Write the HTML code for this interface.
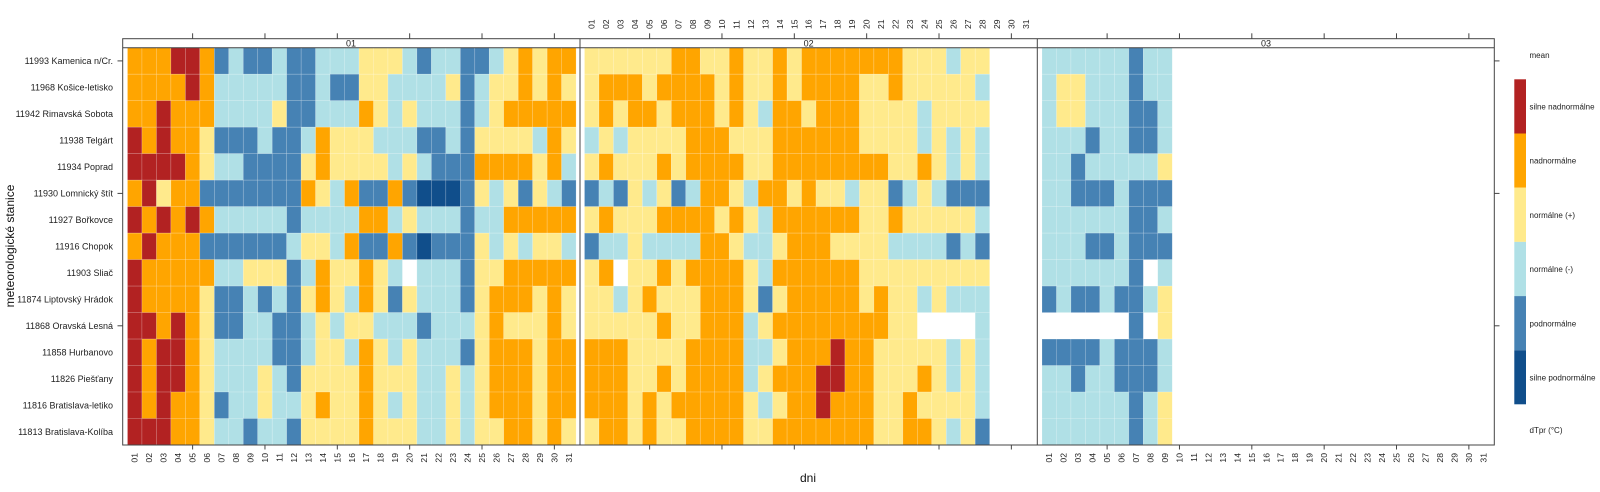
<!DOCTYPE html>
<html><head><meta charset="utf-8">
<style>
html,body{margin:0;padding:0;background:#fff;}
svg{display:block;font-family:"Liberation Sans",Arial,sans-serif;}
</style></head>
<body>
<svg id="s" width="1600" height="492" viewBox="0 0 1600 492" xmlns="http://www.w3.org/2000/svg">
<g id="cells"></g>
<g fill="none" stroke="#444" stroke-width="1">
<rect x="122.7" y="38.7" width="1371.6" height="406.3"/>
<line x1="580" y1="38.7" x2="580" y2="445"/>
<line x1="1037.3" y1="38.7" x2="1037.3" y2="445"/>
<line x1="122.7" y1="47.7" x2="1494.3" y2="47.7"/>
</g>
<g id="ticks" stroke="#444" stroke-width="1"></g>
<g font-size="9" fill="#222" text-anchor="middle">
<text x="351" y="46.5">01</text><text x="808.6" y="46.5">02</text><text x="1266" y="46.5">03</text>
</g>
<g font-size="9" fill="#222" text-anchor="end">
<text x="113" y="64">11993 Kamenica n/Cr.</text>
<text x="113" y="90.5">11968 Košice-letisko</text>
<text x="113" y="117">11942 Rimavská Sobota</text>
<text x="113" y="143.5">11938 Telgárt</text>
<text x="113" y="170">11934 Poprad</text>
<text x="113" y="196.5">11930 Lomnický štít</text>
<text x="113" y="223">11927 Bořkovce</text>
<text x="113" y="249.5">11916 Chopok</text>
<text x="113" y="276">11903 Sliač</text>
<text x="113" y="302.5">11874 Liptovský Hrádok</text>
<text x="113" y="329">11868 Oravská Lesná</text>
<text x="113" y="355.5">11858 Hurbanovo</text>
<text x="113" y="382">11826 Piešťany</text>
<text x="113" y="408.5">11816 Bratislava-letiko</text>
<text x="113" y="435">11813 Bratislava-Kolíba</text>
</g>
<text transform="translate(14,246) rotate(-90)" font-size="12" fill="#111" text-anchor="middle">meteorologické stanice</text>
<text x="808" y="482" font-size="12" fill="#111" text-anchor="middle">dni</text>
<g font-size="8" fill="#222">
<text x="1529.5" y="58">mean</text>
<text x="1529.5" y="109.5" textLength="65" lengthAdjust="spacingAndGlyphs">silne nadnormálne</text>
<text x="1529.5" y="163.5">nadnormálne</text>
<text x="1529.5" y="218">normálne (+)</text>
<text x="1529.5" y="272">normálne (-)</text>
<text x="1529.5" y="326.5">podnormálne</text>
<text x="1529.5" y="380.5" textLength="66" lengthAdjust="spacingAndGlyphs">silne podnormálne</text>
<text x="1529.5" y="433">dTpr (°C)</text>
</g>
<g>
<rect x="1514.3" y="79.3" width="11.7" height="54.2" fill="#B22222"/>
<rect x="1514.3" y="133.5" width="11.7" height="54.2" fill="#FFA500"/>
<rect x="1514.3" y="187.7" width="11.7" height="54.2" fill="#FFEA8C"/>
<rect x="1514.3" y="241.9" width="11.7" height="54.2" fill="#B0E0E6"/>
<rect x="1514.3" y="296.1" width="11.7" height="54.2" fill="#4682B4"/>
<rect x="1514.3" y="350.3" width="11.7" height="54" fill="#104E8B"/>
</g>
<g font-size="8.6" fill="#222" id="toplab">
<text transform="translate(591.7,29) rotate(-90)" dy="0.35em">01</text>
<text transform="translate(606.2,29) rotate(-90)" dy="0.35em">02</text>
<text transform="translate(620.6,29) rotate(-90)" dy="0.35em">03</text>
<text transform="translate(635.1,29) rotate(-90)" dy="0.35em">04</text>
<text transform="translate(649.6,29) rotate(-90)" dy="0.35em">05</text>
<text transform="translate(664.0,29) rotate(-90)" dy="0.35em">06</text>
<text transform="translate(678.5,29) rotate(-90)" dy="0.35em">07</text>
<text transform="translate(693.0,29) rotate(-90)" dy="0.35em">08</text>
<text transform="translate(707.5,29) rotate(-90)" dy="0.35em">09</text>
<text transform="translate(721.9,29) rotate(-90)" dy="0.35em">10</text>
<text transform="translate(736.4,29) rotate(-90)" dy="0.35em">11</text>
<text transform="translate(750.9,29) rotate(-90)" dy="0.35em">12</text>
<text transform="translate(765.3,29) rotate(-90)" dy="0.35em">13</text>
<text transform="translate(779.8,29) rotate(-90)" dy="0.35em">14</text>
<text transform="translate(794.3,29) rotate(-90)" dy="0.35em">15</text>
<text transform="translate(808.7,29) rotate(-90)" dy="0.35em">16</text>
<text transform="translate(823.2,29) rotate(-90)" dy="0.35em">17</text>
<text transform="translate(837.7,29) rotate(-90)" dy="0.35em">18</text>
<text transform="translate(852.2,29) rotate(-90)" dy="0.35em">19</text>
<text transform="translate(866.6,29) rotate(-90)" dy="0.35em">20</text>
<text transform="translate(881.1,29) rotate(-90)" dy="0.35em">21</text>
<text transform="translate(895.6,29) rotate(-90)" dy="0.35em">22</text>
<text transform="translate(910.0,29) rotate(-90)" dy="0.35em">23</text>
<text transform="translate(924.5,29) rotate(-90)" dy="0.35em">24</text>
<text transform="translate(939.0,29) rotate(-90)" dy="0.35em">25</text>
<text transform="translate(953.4,29) rotate(-90)" dy="0.35em">26</text>
<text transform="translate(967.9,29) rotate(-90)" dy="0.35em">27</text>
<text transform="translate(982.4,29) rotate(-90)" dy="0.35em">28</text>
<text transform="translate(996.9,29) rotate(-90)" dy="0.35em">29</text>
<text transform="translate(1011.3,29) rotate(-90)" dy="0.35em">30</text>
<text transform="translate(1025.8,29) rotate(-90)" dy="0.35em">31</text>
</g>
<g font-size="8.6" fill="#222" text-anchor="end">
<text transform="translate(134.7,453) rotate(-90)" dy="0.35em">01</text>
<text transform="translate(149.2,453) rotate(-90)" dy="0.35em">02</text>
<text transform="translate(163.7,453) rotate(-90)" dy="0.35em">03</text>
<text transform="translate(178.1,453) rotate(-90)" dy="0.35em">04</text>
<text transform="translate(192.6,453) rotate(-90)" dy="0.35em">05</text>
<text transform="translate(207.1,453) rotate(-90)" dy="0.35em">06</text>
<text transform="translate(221.5,453) rotate(-90)" dy="0.35em">07</text>
<text transform="translate(236.0,453) rotate(-90)" dy="0.35em">08</text>
<text transform="translate(250.5,453) rotate(-90)" dy="0.35em">09</text>
<text transform="translate(264.9,453) rotate(-90)" dy="0.35em">10</text>
<text transform="translate(279.4,453) rotate(-90)" dy="0.35em">11</text>
<text transform="translate(293.9,453) rotate(-90)" dy="0.35em">12</text>
<text transform="translate(308.4,453) rotate(-90)" dy="0.35em">13</text>
<text transform="translate(322.8,453) rotate(-90)" dy="0.35em">14</text>
<text transform="translate(337.3,453) rotate(-90)" dy="0.35em">15</text>
<text transform="translate(351.8,453) rotate(-90)" dy="0.35em">16</text>
<text transform="translate(366.2,453) rotate(-90)" dy="0.35em">17</text>
<text transform="translate(380.7,453) rotate(-90)" dy="0.35em">18</text>
<text transform="translate(395.2,453) rotate(-90)" dy="0.35em">19</text>
<text transform="translate(409.6,453) rotate(-90)" dy="0.35em">20</text>
<text transform="translate(424.1,453) rotate(-90)" dy="0.35em">21</text>
<text transform="translate(438.6,453) rotate(-90)" dy="0.35em">22</text>
<text transform="translate(453.1,453) rotate(-90)" dy="0.35em">23</text>
<text transform="translate(467.5,453) rotate(-90)" dy="0.35em">24</text>
<text transform="translate(482.0,453) rotate(-90)" dy="0.35em">25</text>
<text transform="translate(496.5,453) rotate(-90)" dy="0.35em">26</text>
<text transform="translate(510.9,453) rotate(-90)" dy="0.35em">27</text>
<text transform="translate(525.4,453) rotate(-90)" dy="0.35em">28</text>
<text transform="translate(539.9,453) rotate(-90)" dy="0.35em">29</text>
<text transform="translate(554.3,453) rotate(-90)" dy="0.35em">30</text>
<text transform="translate(568.8,453) rotate(-90)" dy="0.35em">31</text>
<text transform="translate(1049.2,453) rotate(-90)" dy="0.35em">01</text>
<text transform="translate(1063.7,453) rotate(-90)" dy="0.35em">02</text>
<text transform="translate(1078.2,453) rotate(-90)" dy="0.35em">03</text>
<text transform="translate(1092.6,453) rotate(-90)" dy="0.35em">04</text>
<text transform="translate(1107.1,453) rotate(-90)" dy="0.35em">05</text>
<text transform="translate(1121.6,453) rotate(-90)" dy="0.35em">06</text>
<text transform="translate(1136.0,453) rotate(-90)" dy="0.35em">07</text>
<text transform="translate(1150.5,453) rotate(-90)" dy="0.35em">08</text>
<text transform="translate(1165.0,453) rotate(-90)" dy="0.35em">09</text>
<text transform="translate(1179.4,453) rotate(-90)" dy="0.35em">10</text>
<text transform="translate(1193.9,453) rotate(-90)" dy="0.35em">11</text>
<text transform="translate(1208.4,453) rotate(-90)" dy="0.35em">12</text>
<text transform="translate(1222.9,453) rotate(-90)" dy="0.35em">13</text>
<text transform="translate(1237.3,453) rotate(-90)" dy="0.35em">14</text>
<text transform="translate(1251.8,453) rotate(-90)" dy="0.35em">15</text>
<text transform="translate(1266.3,453) rotate(-90)" dy="0.35em">16</text>
<text transform="translate(1280.7,453) rotate(-90)" dy="0.35em">17</text>
<text transform="translate(1295.2,453) rotate(-90)" dy="0.35em">18</text>
<text transform="translate(1309.7,453) rotate(-90)" dy="0.35em">19</text>
<text transform="translate(1324.1,453) rotate(-90)" dy="0.35em">20</text>
<text transform="translate(1338.6,453) rotate(-90)" dy="0.35em">21</text>
<text transform="translate(1353.1,453) rotate(-90)" dy="0.35em">22</text>
<text transform="translate(1367.6,453) rotate(-90)" dy="0.35em">23</text>
<text transform="translate(1382.0,453) rotate(-90)" dy="0.35em">24</text>
<text transform="translate(1396.5,453) rotate(-90)" dy="0.35em">25</text>
<text transform="translate(1411.0,453) rotate(-90)" dy="0.35em">26</text>
<text transform="translate(1425.4,453) rotate(-90)" dy="0.35em">27</text>
<text transform="translate(1439.9,453) rotate(-90)" dy="0.35em">28</text>
<text transform="translate(1454.4,453) rotate(-90)" dy="0.35em">29</text>
<text transform="translate(1468.8,453) rotate(-90)" dy="0.35em">30</text>
<text transform="translate(1483.3,453) rotate(-90)" dy="0.35em">31</text>
</g>
</svg>
<script>
(function(){
var C={R:"#B22222",O:"#FFA500",Y:"#FFEA8C",L:"#B0E0E6",B:"#4682B4",D:"#104E8B"};
var P1=["OOORROBLBBLBBLLLYYYLBLLBBLYOYOO",
"OOOOROLLLLLBBLBBYYLLLLYBLYYOYOY",
"OOROOOLLLLYBBLLLOYLYLLLBLYOOOOO",
"ROROOYBBBLBBLOYYYLLLBBLBYYYYLOY",
"RRRROYLLBBBBYOYYYYLYLBBBOOOOYOL",
"ORYOOBBBBBBBOYLOBBOBDDDBYLYBYLB",
"ROROROLLLLLBLLLLOOLYLLLBLLOOOOO",
"OROOOBBBBBBLYYLOBBOBDBBBYLYLYYL",
"ROOOOOLLYYYBLOYYOYLWLLLBYYOOOOO",
"ROOOOYBBLBLBYOYLOYBYLLLBYOOOYOY",
"RRORO YBBLLBBLYLYYLLLBLLLYOYYYOY".replace(" ",""),
"RORROYLLLLBBLYYLOYLYLLLBYOOOYOO",
"RORROYLLLYLBYYYYOYYYLLYLYOOOYOO",
"ROROOYBLLYLLYOYYOYLYLLYLYOOOYOO",
"RRROOYLLBLLBYYYYOYYYLLYLYYOOYOY"];
var P2=["YYYYYYOOYYOYYOYOOOOOOOYYYLYY",
"YOOOYOOOOYOYYOYOOOOYYOYYYYYL",
"YOYOOYOOOYOYLOOYOOOYYYYLYYYY",
"LYLYYYYOOOYYYOOOOOOYYYYLYLYL",
"YOYYYOYOOOOYYOOOOOOOOYYOYLYL",
"BLBYLYBLOOYLOOYOYYLYYBLYLBBB",
"YOYYYOOOOYOYLOOOOOOYYOYYYYYL",
"BLLYLLLLOOYLLYOOOYYYYLLLLBLB",
"YOWYYOYOOOOYLOOOOOOYYYYYYYYY",
"YYLYOYYYOOOYBYOOOOOYOYYLYLLL",
"YYYYYOYYOOOLYOOOOOOOOYYWWWWL",
"OOOYYYYOOOOLLYOOOROOYYYYYLYL",
"OOOYYOYOOOOLYOOORROOYYYOYLYL",
"OOOYOYOOOOOYLYOOROOOYYOYYYYL",
"YOOYOYYOOOOYYOOOOOOOYYOOYLYB"];
var P3=["LLLLLLBLL","LYYLLLBLL","LYYLLLBBL","LLLBLLBBL","LLBLLLLLY","LLBBBLBBB","LLLLLLBBL","LLLBBLBBB","LLLLLLBWL","BLBBLBBLY","WWWWWWBWY","BBBBLBBBL","LLBLLBBBL","LLLLLLBLY","LLLLLLBLY"];
var g=document.getElementById("cells"),ns="http://www.w3.org/2000/svg";
var w=14.47,h=26.487,y0=47.7;
function draw(P,x0){for(var r=0;r<P.length;r++){var s=P[r];for(var c=0;c<s.length;c++){var k=s[c];if(!C[k])continue;var e=document.createElementNS(ns,"rect");e.setAttribute("x",(x0+c*w).toFixed(2));e.setAttribute("y",(y0+r*h).toFixed(2));e.setAttribute("width",w.toFixed(2));e.setAttribute("height",h.toFixed(2));e.setAttribute("fill",C[k]);e.setAttribute("stroke","rgba(255,255,255,0.28)");e.setAttribute("stroke-width","0.6");g.appendChild(e);}}}
draw(P1,127.5);draw(P2,584.5);draw(P3,1042);
var t=document.getElementById("ticks");
function ln(a,b,c,d){var e=document.createElementNS(ns,"line");e.setAttribute("x1",a);e.setAttribute("y1",b);e.setAttribute("x2",c);e.setAttribute("y2",d);t.appendChild(e);}
[127.5,584.5,1042].forEach(function(x0){for(var d=5;d<=30;d+=5){var x=x0+(d-0.5)*w;ln(x,33.3,x,38.7);ln(x,445,x,449.5);}});
[60.9,193.4,325.8].forEach(function(y){ln(117.5,y,122.7,y);ln(1494.3,y,1499.5,y);});
})();
</script>
</body></html>
